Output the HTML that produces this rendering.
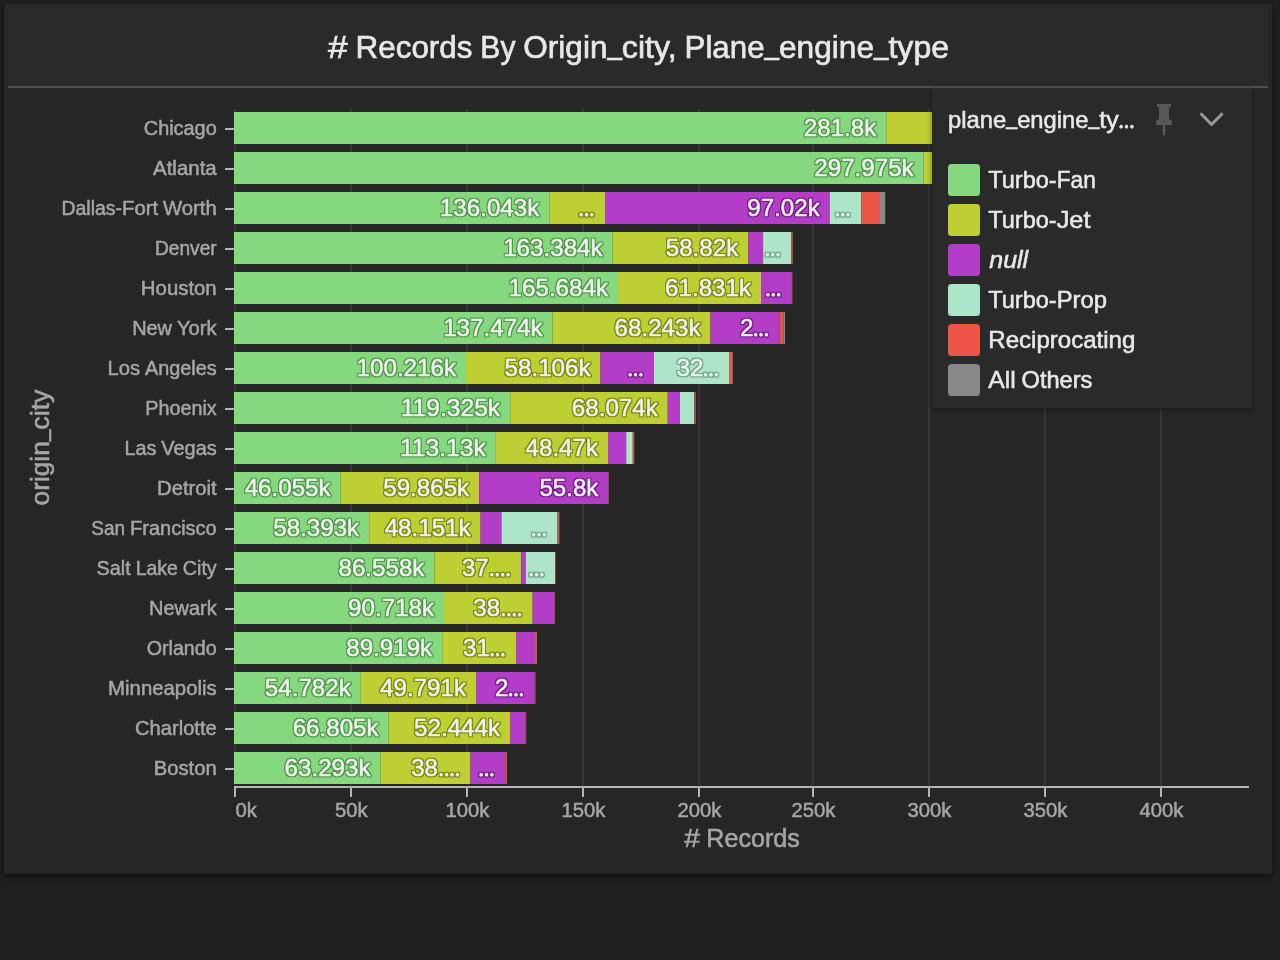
<!DOCTYPE html>
<html><head><meta charset="utf-8"><title>Chart</title>
<style>
html,body{margin:0;padding:0;background:#202020}
body{width:1280px;height:960px;overflow:hidden;position:relative;font-family:"Liberation Sans",sans-serif}
.panel{position:absolute;left:4px;top:4px;width:1268px;height:870px;background:#262626;box-shadow:0 3px 9px rgba(0,0,0,.36),0 1px 3px rgba(0,0,0,.4)}
.header{position:absolute;left:8px;top:8px;width:1260px;height:78px;background:#2a2a2a;border-bottom:2px solid #505050}
.legend{position:absolute;left:932px;top:88px;width:320px;height:320px;background:#2a2a2a;box-shadow:0 2px 6px rgba(0,0,0,.35)}
svg{position:absolute;left:0;top:0;display:block}
text{font-family:"Liberation Sans",sans-serif;white-space:pre}
.tt{font-size:32px;fill:#e8e8e8;stroke:#e8e8e8;stroke-width:.65px}
.tk{font-size:20px;fill:#a6a6a6;stroke:#a6a6a6;stroke-width:.5px}
.at{font-size:25.6px;fill:#a6a6a6;stroke:#a6a6a6;stroke-width:.55px}
.bl{font-size:24px;fill:#f2f2f2;stroke:#f2f2f2;stroke-width:.5px;stroke-linejoin:round}
.lg{font-size:24px;fill:#e8e8e8;stroke:#e8e8e8;stroke-width:.55px}
.el{font-family:"Liberation Serif",serif;font-size:16px;font-weight:bold;stroke-width:.8px}
</style></head><body>
<div class="panel"></div>
<div class="header"></div>
<svg width="1280" height="960" viewBox="0 0 1280 960">
<defs>
<filter id="fg" x="-20%" y="-40%" width="140%" height="180%" color-interpolation-filters="sRGB"><feMorphology in="SourceAlpha" operator="dilate" radius="1"/><feGaussianBlur stdDeviation="0.5"/><feComponentTransfer result="d"><feFuncA type="linear" slope="1.5" intercept="0"/></feComponentTransfer><feFlood flood-color="#4f9a49"/><feComposite in2="d" operator="in" result="o"/><feMerge><feMergeNode in="o"/><feMergeNode in="SourceGraphic"/></feMerge></filter>
<filter id="fy" x="-20%" y="-40%" width="140%" height="180%" color-interpolation-filters="sRGB"><feMorphology in="SourceAlpha" operator="dilate" radius="1"/><feGaussianBlur stdDeviation="0.5"/><feComponentTransfer result="d"><feFuncA type="linear" slope="1.5" intercept="0"/></feComponentTransfer><feFlood flood-color="#7d8a14"/><feComposite in2="d" operator="in" result="o"/><feMerge><feMergeNode in="o"/><feMergeNode in="SourceGraphic"/></feMerge></filter>
<filter id="fp" x="-20%" y="-40%" width="140%" height="180%" color-interpolation-filters="sRGB"><feMorphology in="SourceAlpha" operator="dilate" radius="1"/><feGaussianBlur stdDeviation="0.5"/><feComponentTransfer result="d"><feFuncA type="linear" slope="1.5" intercept="0"/></feComponentTransfer><feFlood flood-color="#74208a"/><feComposite in2="d" operator="in" result="o"/><feMerge><feMergeNode in="o"/><feMergeNode in="SourceGraphic"/></feMerge></filter>
<filter id="fm" x="-20%" y="-40%" width="140%" height="180%" color-interpolation-filters="sRGB"><feMorphology in="SourceAlpha" operator="dilate" radius="1"/><feGaussianBlur stdDeviation="0.5"/><feComponentTransfer result="d"><feFuncA type="linear" slope="1.5" intercept="0"/></feComponentTransfer><feFlood flood-color="#6fa88c"/><feComposite in2="d" operator="in" result="o"/><feMerge><feMergeNode in="o"/><feMergeNode in="SourceGraphic"/></feMerge></filter>
</defs>
<text class="tt"><tspan x="327.97" y="58.00" textLength="19.70" lengthAdjust="spacingAndGlyphs">#</tspan> <tspan x="355.61" y="58.00" textLength="116.80" lengthAdjust="spacingAndGlyphs">Records</tspan> <tspan x="480.34" y="58.00" textLength="35.08" lengthAdjust="spacingAndGlyphs">By</tspan> <tspan x="523.36" y="58.00" textLength="84.06" lengthAdjust="spacingAndGlyphs">Origin</tspan><tspan x="607.42" y="53.68" textLength="14.44" lengthAdjust="spacingAndGlyphs">_</tspan><tspan x="621.86" y="58.00" textLength="54.77" lengthAdjust="spacingAndGlyphs">city,</tspan> <tspan x="684.56" y="58.00" textLength="80.02" lengthAdjust="spacingAndGlyphs">Plane</tspan><tspan x="764.58" y="53.68" textLength="14.44" lengthAdjust="spacingAndGlyphs">_</tspan><tspan x="779.02" y="58.00" textLength="95.03" lengthAdjust="spacingAndGlyphs">engine</tspan><tspan x="874.05" y="53.68" textLength="14.44" lengthAdjust="spacingAndGlyphs">_</tspan><tspan x="888.48" y="58.00" textLength="60.55" lengthAdjust="spacingAndGlyphs">type</tspan></text>
<rect x="234" y="109" width="2" height="677" fill="#363636"/>
<rect x="350" y="109" width="2" height="677" fill="#363636"/>
<rect x="466" y="109" width="2" height="677" fill="#363636"/>
<rect x="582" y="109" width="2" height="677" fill="#363636"/>
<rect x="698" y="109" width="2" height="677" fill="#363636"/>
<rect x="812" y="109" width="2" height="677" fill="#363636"/>
<rect x="928" y="109" width="2" height="677" fill="#363636"/>
<rect x="1044" y="109" width="2" height="677" fill="#363636"/>
<rect x="1160" y="109" width="2" height="677" fill="#363636"/>
<rect x="234.00" y="112" width="652.25" height="32" fill="#86d87f"/>
<rect x="886.25" y="112" width="73.75" height="32" fill="#bdcf32"/>
<rect x="234.00" y="152" width="689.70" height="32" fill="#86d87f"/>
<rect x="923.70" y="152" width="36.30" height="32" fill="#bdcf32"/>
<rect x="234.00" y="192" width="315.30" height="32" fill="#86d87f"/>
<rect x="549.30" y="192" width="55.70" height="32" fill="#bdcf32"/>
<rect x="605.00" y="192" width="224.75" height="32" fill="#b33dc6"/>
<rect x="829.75" y="192" width="31.50" height="32" fill="#ace5c7"/>
<rect x="861.25" y="192" width="18.75" height="32" fill="#ea5545"/>
<rect x="880.00" y="192" width="5.25" height="32" fill="#888888"/>
<rect x="234.00" y="232" width="378.60" height="32" fill="#86d87f"/>
<rect x="612.60" y="232" width="135.60" height="32" fill="#bdcf32"/>
<rect x="748.20" y="232" width="14.90" height="32" fill="#b33dc6"/>
<rect x="763.10" y="232" width="28.15" height="32" fill="#ace5c7"/>
<rect x="791.25" y="232" width="1.50" height="32" fill="#c5584b"/>
<rect x="234.00" y="272" width="384.00" height="32" fill="#86d87f"/>
<rect x="618.00" y="272" width="143.00" height="32" fill="#bdcf32"/>
<rect x="761.00" y="272" width="30.90" height="32" fill="#b33dc6"/>
<rect x="791.90" y="272" width="0.50" height="32" fill="#c5584b"/>
<rect x="234.00" y="312" width="318.60" height="32" fill="#86d87f"/>
<rect x="552.60" y="312" width="157.90" height="32" fill="#bdcf32"/>
<rect x="710.50" y="312" width="69.10" height="32" fill="#b33dc6"/>
<rect x="779.60" y="312" width="3.90" height="32" fill="#ea5545"/>
<rect x="783.50" y="312" width="1.50" height="32" fill="#888888"/>
<rect x="234.00" y="352" width="232.00" height="32" fill="#86d87f"/>
<rect x="466.00" y="352" width="134.50" height="32" fill="#bdcf32"/>
<rect x="600.50" y="352" width="53.50" height="32" fill="#b33dc6"/>
<rect x="654.00" y="352" width="75.50" height="32" fill="#ace5c7"/>
<rect x="729.50" y="352" width="3.00" height="32" fill="#ea5545"/>
<rect x="732.50" y="352" width="0.50" height="32" fill="#888888"/>
<rect x="234.00" y="392" width="276.20" height="32" fill="#86d87f"/>
<rect x="510.20" y="392" width="157.55" height="32" fill="#bdcf32"/>
<rect x="667.75" y="392" width="12.25" height="32" fill="#b33dc6"/>
<rect x="680.00" y="392" width="14.25" height="32" fill="#ace5c7"/>
<rect x="694.25" y="392" width="1.50" height="32" fill="#c5584b"/>
<rect x="234.00" y="432" width="261.85" height="32" fill="#86d87f"/>
<rect x="495.85" y="432" width="112.15" height="32" fill="#bdcf32"/>
<rect x="608.00" y="432" width="18.25" height="32" fill="#b33dc6"/>
<rect x="626.25" y="432" width="6.50" height="32" fill="#ace5c7"/>
<rect x="632.75" y="432" width="1.50" height="32" fill="#c5584b"/>
<rect x="234.00" y="472" width="106.60" height="32" fill="#86d87f"/>
<rect x="340.60" y="472" width="138.56" height="32" fill="#bdcf32"/>
<rect x="479.16" y="472" width="129.24" height="32" fill="#b33dc6"/>
<rect x="608.40" y="472" width="0.60" height="32" fill="#c5584b"/>
<rect x="234.00" y="512" width="135.20" height="32" fill="#86d87f"/>
<rect x="369.20" y="512" width="111.40" height="32" fill="#bdcf32"/>
<rect x="480.60" y="512" width="20.90" height="32" fill="#b33dc6"/>
<rect x="501.50" y="512" width="56.00" height="32" fill="#ace5c7"/>
<rect x="557.50" y="512" width="2.00" height="32" fill="#c5584b"/>
<rect x="234.00" y="552" width="200.40" height="32" fill="#86d87f"/>
<rect x="434.40" y="552" width="86.85" height="32" fill="#bdcf32"/>
<rect x="521.25" y="552" width="4.50" height="32" fill="#b33dc6"/>
<rect x="525.75" y="552" width="29.25" height="32" fill="#ace5c7"/>
<rect x="555.00" y="552" width="0.60" height="32" fill="#c5584b"/>
<rect x="234.00" y="592" width="210.00" height="32" fill="#86d87f"/>
<rect x="444.00" y="592" width="88.70" height="32" fill="#bdcf32"/>
<rect x="532.70" y="592" width="21.55" height="32" fill="#b33dc6"/>
<rect x="554.25" y="592" width="0.75" height="32" fill="#c5584b"/>
<rect x="234.00" y="632" width="208.20" height="32" fill="#86d87f"/>
<rect x="442.20" y="632" width="73.80" height="32" fill="#bdcf32"/>
<rect x="516.00" y="632" width="19.00" height="32" fill="#b33dc6"/>
<rect x="535.00" y="632" width="2.00" height="32" fill="#c5584b"/>
<rect x="234.00" y="672" width="126.80" height="32" fill="#86d87f"/>
<rect x="360.80" y="672" width="115.20" height="32" fill="#bdcf32"/>
<rect x="476.00" y="672" width="58.50" height="32" fill="#b33dc6"/>
<rect x="534.50" y="672" width="1.00" height="32" fill="#c5584b"/>
<rect x="234.00" y="712" width="154.60" height="32" fill="#86d87f"/>
<rect x="388.60" y="712" width="121.40" height="32" fill="#bdcf32"/>
<rect x="510.00" y="712" width="15.40" height="32" fill="#b33dc6"/>
<rect x="525.40" y="712" width="0.80" height="32" fill="#c5584b"/>
<rect x="234.00" y="752" width="146.50" height="32" fill="#86d87f"/>
<rect x="380.50" y="752" width="90.00" height="32" fill="#bdcf32"/>
<rect x="470.50" y="752" width="34.60" height="32" fill="#b33dc6"/>
<rect x="505.10" y="752" width="1.90" height="32" fill="#c5584b"/>
<text class="bl" filter="url(#fg)"><tspan x="803.80" y="136.00" textLength="72.45" lengthAdjust="spacingAndGlyphs">281.8k</tspan></text>
<text class="bl" filter="url(#fg)"><tspan x="814.28" y="176.00" textLength="99.42" lengthAdjust="spacingAndGlyphs">297.975k</tspan></text>
<text class="bl" filter="url(#fg)"><tspan x="439.88" y="216.00" textLength="99.42" lengthAdjust="spacingAndGlyphs">136.043k</tspan></text>
<text class="bl" filter="url(#fy)"><tspan class="el" x="578.45" y="216">…</tspan></text>
<text class="bl" filter="url(#fp)"><tspan x="747.30" y="216.00" textLength="72.45" lengthAdjust="spacingAndGlyphs">97.02k</tspan></text>
<text class="bl" filter="url(#fm)"><tspan class="el" x="834.70" y="216">…</tspan></text>
<text class="bl" filter="url(#fg)"><tspan x="503.18" y="256.00" textLength="99.42" lengthAdjust="spacingAndGlyphs">163.384k</tspan></text>
<text class="bl" filter="url(#fy)"><tspan x="665.75" y="256.00" textLength="72.45" lengthAdjust="spacingAndGlyphs">58.82k</tspan></text>
<text class="bl" filter="url(#fm)"><tspan class="el" x="764.70" y="256">…</tspan></text>
<text class="bl" filter="url(#fg)"><tspan x="508.58" y="296.00" textLength="99.42" lengthAdjust="spacingAndGlyphs">165.684k</tspan></text>
<text class="bl" filter="url(#fy)"><tspan x="665.07" y="296.00" textLength="85.93" lengthAdjust="spacingAndGlyphs">61.831k</tspan></text>
<text class="bl" filter="url(#fp)"><tspan class="el" x="765.35" y="296">…</tspan></text>
<text class="bl" filter="url(#fg)"><tspan x="443.18" y="336.00" textLength="99.42" lengthAdjust="spacingAndGlyphs">137.474k</tspan></text>
<text class="bl" filter="url(#fy)"><tspan x="614.57" y="336.00" textLength="85.93" lengthAdjust="spacingAndGlyphs">68.243k</tspan></text>
<text class="bl" filter="url(#fp)"><tspan x="740.06" y="336.00" textLength="13.49" lengthAdjust="spacingAndGlyphs">2</tspan><tspan class="el" x="753.05" y="336">…</tspan></text>
<text class="bl" filter="url(#fg)"><tspan x="356.58" y="376.00" textLength="99.42" lengthAdjust="spacingAndGlyphs">100.216k</tspan></text>
<text class="bl" filter="url(#fy)"><tspan x="504.57" y="376.00" textLength="85.93" lengthAdjust="spacingAndGlyphs">58.106k</tspan></text>
<text class="bl" filter="url(#fp)"><tspan class="el" x="627.45" y="376">…</tspan></text>
<text class="bl" filter="url(#fm)"><tspan x="676.47" y="376.00" textLength="26.98" lengthAdjust="spacingAndGlyphs">32</tspan><tspan class="el" x="702.95" y="376">…</tspan></text>
<text class="bl" filter="url(#fg)"><tspan x="400.78" y="416.00" textLength="99.42" lengthAdjust="spacingAndGlyphs">119.325k</tspan></text>
<text class="bl" filter="url(#fy)"><tspan x="571.82" y="416.00" textLength="85.93" lengthAdjust="spacingAndGlyphs">68.074k</tspan></text>
<text class="bl" filter="url(#fg)"><tspan x="399.92" y="456.00" textLength="85.93" lengthAdjust="spacingAndGlyphs">113.13k</tspan></text>
<text class="bl" filter="url(#fy)"><tspan x="525.55" y="456.00" textLength="72.45" lengthAdjust="spacingAndGlyphs">48.47k</tspan></text>
<text class="bl" filter="url(#fg)"><tspan x="244.67" y="496.00" textLength="85.93" lengthAdjust="spacingAndGlyphs">46.055k</tspan></text>
<text class="bl" filter="url(#fy)"><tspan x="383.23" y="496.00" textLength="85.93" lengthAdjust="spacingAndGlyphs">59.865k</tspan></text>
<text class="bl" filter="url(#fp)"><tspan x="539.44" y="496.00" textLength="58.96" lengthAdjust="spacingAndGlyphs">55.8k</tspan></text>
<text class="bl" filter="url(#fg)"><tspan x="273.27" y="536.00" textLength="85.93" lengthAdjust="spacingAndGlyphs">58.393k</tspan></text>
<text class="bl" filter="url(#fy)"><tspan x="384.67" y="536.00" textLength="85.93" lengthAdjust="spacingAndGlyphs">48.151k</tspan></text>
<text class="bl" filter="url(#fm)"><tspan class="el" x="530.95" y="536">…</tspan></text>
<text class="bl" filter="url(#fg)"><tspan x="338.47" y="576.00" textLength="85.93" lengthAdjust="spacingAndGlyphs">86.558k</tspan></text>
<text class="bl" filter="url(#fy)"><tspan x="461.89" y="576.00" textLength="33.30" lengthAdjust="spacingAndGlyphs">37.</tspan><tspan class="el" x="494.70" y="576">…</tspan></text>
<text class="bl" filter="url(#fm)"><tspan class="el" x="528.45" y="576">…</tspan></text>
<text class="bl" filter="url(#fg)"><tspan x="348.07" y="616.00" textLength="85.93" lengthAdjust="spacingAndGlyphs">90.718k</tspan></text>
<text class="bl" filter="url(#fy)"><tspan x="473.34" y="616.00" textLength="33.30" lengthAdjust="spacingAndGlyphs">38.</tspan><tspan class="el" x="506.15" y="616">…</tspan></text>
<text class="bl" filter="url(#fg)"><tspan x="346.27" y="656.00" textLength="85.93" lengthAdjust="spacingAndGlyphs">89.919k</tspan></text>
<text class="bl" filter="url(#fy)"><tspan x="462.97" y="656.00" textLength="26.98" lengthAdjust="spacingAndGlyphs">31</tspan><tspan class="el" x="489.45" y="656">…</tspan></text>
<text class="bl" filter="url(#fg)"><tspan x="264.87" y="696.00" textLength="85.93" lengthAdjust="spacingAndGlyphs">54.782k</tspan></text>
<text class="bl" filter="url(#fy)"><tspan x="380.07" y="696.00" textLength="85.93" lengthAdjust="spacingAndGlyphs">49.791k</tspan></text>
<text class="bl" filter="url(#fp)"><tspan x="494.96" y="696.00" textLength="13.49" lengthAdjust="spacingAndGlyphs">2</tspan><tspan class="el" x="507.95" y="696">…</tspan></text>
<text class="bl" filter="url(#fg)"><tspan x="292.67" y="736.00" textLength="85.93" lengthAdjust="spacingAndGlyphs">66.805k</tspan></text>
<text class="bl" filter="url(#fy)"><tspan x="414.07" y="736.00" textLength="85.93" lengthAdjust="spacingAndGlyphs">52.444k</tspan></text>
<text class="bl" filter="url(#fg)"><tspan x="284.57" y="776.00" textLength="85.93" lengthAdjust="spacingAndGlyphs">63.293k</tspan></text>
<text class="bl" filter="url(#fy)"><tspan x="411.14" y="776.00" textLength="33.30" lengthAdjust="spacingAndGlyphs">38.</tspan><tspan class="el" x="443.95" y="776">…</tspan></text>
<text class="bl" filter="url(#fp)"><tspan class="el" x="478.55" y="776">…</tspan></text>
<rect x="234" y="786" width="1015" height="2" fill="#b4b4b4"/>
<rect x="234" y="786" width="2" height="11" fill="#b4b4b4"/>
<text class="tk"><tspan x="235.50" y="817.00" textLength="21.38" lengthAdjust="spacingAndGlyphs">0k</tspan></text>
<rect x="350" y="786" width="2" height="11" fill="#b4b4b4"/>
<text class="tk"><tspan x="335.09" y="817.00" textLength="32.62" lengthAdjust="spacingAndGlyphs">50k</tspan></text>
<rect x="466" y="786" width="2" height="11" fill="#b4b4b4"/>
<text class="tk"><tspan x="445.47" y="817.00" textLength="43.86" lengthAdjust="spacingAndGlyphs">100k</tspan></text>
<rect x="582" y="786" width="2" height="11" fill="#b4b4b4"/>
<text class="tk"><tspan x="561.47" y="817.00" textLength="43.86" lengthAdjust="spacingAndGlyphs">150k</tspan></text>
<rect x="698" y="786" width="2" height="11" fill="#b4b4b4"/>
<text class="tk"><tspan x="677.47" y="817.00" textLength="43.86" lengthAdjust="spacingAndGlyphs">200k</tspan></text>
<rect x="812" y="786" width="2" height="11" fill="#b4b4b4"/>
<text class="tk"><tspan x="791.47" y="817.00" textLength="43.86" lengthAdjust="spacingAndGlyphs">250k</tspan></text>
<rect x="928" y="786" width="2" height="11" fill="#b4b4b4"/>
<text class="tk"><tspan x="907.47" y="817.00" textLength="43.86" lengthAdjust="spacingAndGlyphs">300k</tspan></text>
<rect x="1044" y="786" width="2" height="11" fill="#b4b4b4"/>
<text class="tk"><tspan x="1023.47" y="817.00" textLength="43.86" lengthAdjust="spacingAndGlyphs">350k</tspan></text>
<rect x="1160" y="786" width="2" height="11" fill="#b4b4b4"/>
<text class="tk"><tspan x="1139.47" y="817.00" textLength="43.86" lengthAdjust="spacingAndGlyphs">400k</tspan></text>
<rect x="225" y="128" width="9" height="2" fill="#b4b4b4"/>
<text class="tk"><tspan x="143.82" y="135.00" textLength="72.88" lengthAdjust="spacingAndGlyphs">Chicago</tspan></text>
<rect x="225" y="168" width="9" height="2" fill="#b4b4b4"/>
<text class="tk"><tspan x="153.07" y="175.00" textLength="63.63" lengthAdjust="spacingAndGlyphs">Atlanta</tspan></text>
<rect x="225" y="208" width="9" height="2" fill="#b4b4b4"/>
<text class="tk"><tspan x="61.54" y="215.00" textLength="60.46" lengthAdjust="spacingAndGlyphs">Dallas-</tspan><tspan x="122.00" y="215.00" textLength="36.06" lengthAdjust="spacingAndGlyphs">Fort</tspan> <tspan x="163.03" y="215.00" textLength="53.67" lengthAdjust="spacingAndGlyphs">Worth</tspan></text>
<rect x="225" y="248" width="9" height="2" fill="#b4b4b4"/>
<text class="tk"><tspan x="154.98" y="255.00" textLength="61.72" lengthAdjust="spacingAndGlyphs">Denver</tspan></text>
<rect x="225" y="288" width="9" height="2" fill="#b4b4b4"/>
<text class="tk"><tspan x="140.88" y="295.00" textLength="75.82" lengthAdjust="spacingAndGlyphs">Houston</tspan></text>
<rect x="225" y="328" width="9" height="2" fill="#b4b4b4"/>
<text class="tk"><tspan x="132.14" y="335.00" textLength="39.90" lengthAdjust="spacingAndGlyphs">New</tspan> <tspan x="177.00" y="335.00" textLength="39.70" lengthAdjust="spacingAndGlyphs">York</tspan></text>
<rect x="225" y="368" width="9" height="2" fill="#b4b4b4"/>
<text class="tk"><tspan x="107.52" y="375.00" textLength="32.50" lengthAdjust="spacingAndGlyphs">Los</tspan> <tspan x="144.98" y="375.00" textLength="71.72" lengthAdjust="spacingAndGlyphs">Angeles</tspan></text>
<rect x="225" y="408" width="9" height="2" fill="#b4b4b4"/>
<text class="tk"><tspan x="145.23" y="415.00" textLength="71.47" lengthAdjust="spacingAndGlyphs">Phoenix</tspan></text>
<rect x="225" y="448" width="9" height="2" fill="#b4b4b4"/>
<text class="tk"><tspan x="124.42" y="455.00" textLength="31.97" lengthAdjust="spacingAndGlyphs">Las</tspan> <tspan x="161.36" y="455.00" textLength="55.34" lengthAdjust="spacingAndGlyphs">Vegas</tspan></text>
<rect x="225" y="488" width="9" height="2" fill="#b4b4b4"/>
<text class="tk"><tspan x="157.03" y="495.00" textLength="59.67" lengthAdjust="spacingAndGlyphs">Detroit</tspan></text>
<rect x="225" y="528" width="9" height="2" fill="#b4b4b4"/>
<text class="tk"><tspan x="91.30" y="535.00" textLength="33.80" lengthAdjust="spacingAndGlyphs">San</tspan> <tspan x="130.06" y="535.00" textLength="86.64" lengthAdjust="spacingAndGlyphs">Francisco</tspan></text>
<rect x="225" y="568" width="9" height="2" fill="#b4b4b4"/>
<text class="tk"><tspan x="96.53" y="575.00" textLength="34.16" lengthAdjust="spacingAndGlyphs">Salt</tspan> <tspan x="135.66" y="575.00" textLength="42.20" lengthAdjust="spacingAndGlyphs">Lake</tspan> <tspan x="182.81" y="575.00" textLength="33.89" lengthAdjust="spacingAndGlyphs">City</tspan></text>
<rect x="225" y="608" width="9" height="2" fill="#b4b4b4"/>
<text class="tk"><tspan x="149.00" y="615.00" textLength="67.70" lengthAdjust="spacingAndGlyphs">Newark</tspan></text>
<rect x="225" y="648" width="9" height="2" fill="#b4b4b4"/>
<text class="tk"><tspan x="146.69" y="655.00" textLength="70.01" lengthAdjust="spacingAndGlyphs">Orlando</tspan></text>
<rect x="225" y="688" width="9" height="2" fill="#b4b4b4"/>
<text class="tk"><tspan x="108.12" y="695.00" textLength="108.58" lengthAdjust="spacingAndGlyphs">Minneapolis</tspan></text>
<rect x="225" y="728" width="9" height="2" fill="#b4b4b4"/>
<text class="tk"><tspan x="135.05" y="735.00" textLength="81.65" lengthAdjust="spacingAndGlyphs">Charlotte</tspan></text>
<rect x="225" y="768" width="9" height="2" fill="#b4b4b4"/>
<text class="tk"><tspan x="153.71" y="775.00" textLength="62.99" lengthAdjust="spacingAndGlyphs">Boston</tspan></text>
<text class="at"><tspan x="684.24" y="846.50" textLength="15.76" lengthAdjust="spacingAndGlyphs">#</tspan> <tspan x="706.35" y="846.50" textLength="93.41" lengthAdjust="spacingAndGlyphs">Records</tspan></text>
<g transform="translate(49.2,447.5) rotate(-90)"><text class="at"><tspan x="-57.94" y="0.00" textLength="64.22" lengthAdjust="spacingAndGlyphs">origin</tspan><tspan x="6.29" y="-3.46" textLength="11.55" lengthAdjust="spacingAndGlyphs">_</tspan><tspan x="17.83" y="0.00" textLength="40.10" lengthAdjust="spacingAndGlyphs">city</tspan></text></g>
</svg>
<div class="legend"></div>
<svg width="1280" height="960" viewBox="0 0 1280 960">
<text class="lg"><tspan x="948.00" y="127.50" textLength="58.35" lengthAdjust="spacingAndGlyphs">plane</tspan><tspan x="1006.35" y="124.26" textLength="10.83" lengthAdjust="spacingAndGlyphs">_</tspan><tspan x="1017.18" y="127.50" textLength="71.27" lengthAdjust="spacingAndGlyphs">engine</tspan><tspan x="1088.45" y="124.26" textLength="10.83" lengthAdjust="spacingAndGlyphs">_</tspan><tspan x="1099.28" y="127.50" textLength="19.21" lengthAdjust="spacingAndGlyphs">ty</tspan><tspan class="el" x="1118.48" y="127.5">…</tspan></text>
<path d="M1157,104H1171V107H1169V118.5L1172,121.5V125H1165.2V135.5H1162.8V125H1156V121.5L1159,118.5V107H1157Z" fill="#575757"/>
<path d="M1201.5,114.2L1211.6,124.5L1221.7,114.2" fill="none" stroke="#9a9a9a" stroke-width="3" stroke-linecap="round" stroke-linejoin="round"/>
<rect x="948" y="164" width="32" height="32" rx="3.5" fill="#86d87f"/>
<text class="lg"><tspan x="988.30" y="187.80" textLength="68.37" lengthAdjust="spacingAndGlyphs">Turbo-</tspan><tspan x="1056.67" y="187.80" textLength="39.18" lengthAdjust="spacingAndGlyphs">Fan</tspan></text>
<rect x="948" y="204" width="32" height="32" rx="3.5" fill="#bdcf32"/>
<text class="lg"><tspan x="988.30" y="227.80" textLength="68.37" lengthAdjust="spacingAndGlyphs">Turbo-</tspan><tspan x="1056.67" y="227.80" textLength="33.82" lengthAdjust="spacingAndGlyphs">Jet</tspan></text>
<rect x="948" y="244" width="32" height="32" rx="3.5" fill="#b33dc6"/>
<text class="lg" font-style="italic"><tspan x="989.30" y="267.80" textLength="38.86" lengthAdjust="spacingAndGlyphs">null</tspan></text>
<rect x="948" y="284" width="32" height="32" rx="3.5" fill="#ace5c7"/>
<text class="lg"><tspan x="988.30" y="307.80" textLength="68.37" lengthAdjust="spacingAndGlyphs">Turbo-</tspan><tspan x="1056.67" y="307.80" textLength="50.20" lengthAdjust="spacingAndGlyphs">Prop</tspan></text>
<rect x="948" y="324" width="32" height="32" rx="3.5" fill="#ea5545"/>
<text class="lg"><tspan x="988.30" y="347.80" textLength="147.01" lengthAdjust="spacingAndGlyphs">Reciprocating</tspan></text>
<rect x="948" y="364" width="32" height="32" rx="3.5" fill="#888888"/>
<text class="lg"><tspan x="988.30" y="387.80" textLength="27.33" lengthAdjust="spacingAndGlyphs">All</tspan> <tspan x="1021.58" y="387.80" textLength="70.83" lengthAdjust="spacingAndGlyphs">Others</tspan></text>
</svg>
</body></html>
